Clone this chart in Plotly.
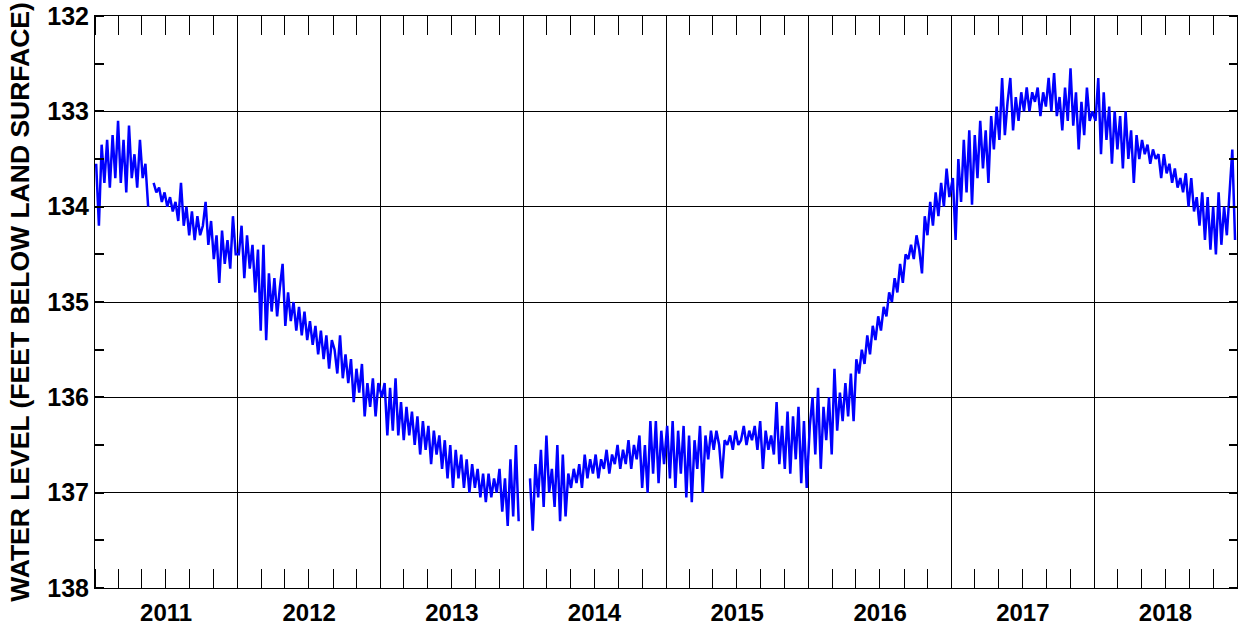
import pandas as pd
import plotly.graph_objects as go

# Weekly water-level readings (feet below land surface), one list per year
wl_2011 = [133.55, 134.2, 133.35, 133.75, 133.3, 133.8, 133.25, 133.7, 133.1, 133.75, 133.3, 133.85, 133.15, 133.7,
           133.45, 133.8, 133.3, 133.7, 133.55, 134.0, None, 133.75, 133.85, 133.8, 133.95, 133.85, 134.0, 133.9,
           134.05, 133.95, 134.15, 133.75, 134.2, 134.0, 134.3, 134.05, 134.35, 134.1, 134.3, 134.2, 133.95, 134.4,
           134.15, 134.55, 134.3, 134.8, 134.25, 134.6, 134.35, 134.65, 134.1, 134.5]
wl_2012 = [134.5, 134.2, 134.75, 134.3, 134.65, 134.4, 134.9, 134.45, 135.3, 134.4, 135.4, 134.7, 135.1, 134.75,
           135.15, 134.85, 134.6, 135.25, 134.9, 135.2, 135.0, 135.3, 135.05, 135.35, 135.1, 135.4, 135.2, 135.45,
           135.25, 135.55, 135.3, 135.6, 135.35, 135.7, 135.4, 135.5, 135.75, 135.35, 135.8, 135.55, 135.85, 135.6,
           136.05, 135.7, 135.95, 135.65, 136.2, 135.85, 136.1, 135.8, 136.2, 135.85]
wl_2013 = [136.0, 135.85, 136.4, 135.9, 136.35, 135.8, 136.4, 136.05, 136.45, 136.1, 136.4, 136.15, 136.5, 136.2,
           136.6, 136.25, 136.55, 136.3, 136.7, 136.35, 136.6, 136.4, 136.75, 136.45, 136.85, 136.5, 136.95, 136.55,
           136.85, 136.6, 136.95, 136.65, 137.0, 136.7, 136.95, 136.75, 137.05, 136.8, 137.1, 136.8, 137.05, 136.85,
           137.0, 136.75, 137.2, 136.85, 137.35, 136.65, 137.25, 136.5, 137.3, None]
wl_2014 = [None, None, 136.85, 137.4, 136.7, 137.05, 136.55, 137.15, 136.4, 137.0, 136.75, 137.15, 136.5, 137.3,
           136.6, 137.25, 136.8, 136.95, 136.75, 136.9, 136.7, 136.95, 136.6, 136.85, 136.65, 136.8, 136.6, 136.85,
           136.65, 136.75, 136.55, 136.8, 136.6, 136.7, 136.5, 136.75, 136.55, 136.7, 136.45, 136.75, 136.5, 136.65,
           136.4, 136.95, 136.5, 137.0, 136.25, 136.8, 136.25, 136.9, 136.35, 136.7]
wl_2015 = [136.3, 136.85, 136.25, 136.95, 136.35, 136.8, 136.3, 137.05, 136.4, 137.1, 136.45, 136.75, 136.3, 137.0,
           136.4, 136.65, 136.35, 136.55, 136.35, 136.5, 136.85, 136.45, 136.5, 136.4, 136.55, 136.35, 136.5, 136.45,
           136.3, 136.5, 136.35, 136.45, 136.3, 136.55, 136.25, 136.75, 136.35, 136.55, 136.4, 136.6, 136.05, 136.7,
           136.3, 136.75, 136.15, 136.8, 136.2, 136.65, 136.1, 136.9, 136.25, 136.95]
wl_2016 = [136.3, 136.0, 136.6, 135.9, 136.75, 136.1, 136.45, 136.0, 136.6, 135.7, 136.35, 135.95, 136.25, 135.85,
           136.2, 135.75, 136.25, 135.6, 135.75, 135.5, 135.65, 135.35, 135.55, 135.25, 135.4, 135.15, 135.3, 135.05,
           135.15, 134.9, 135.0, 134.75, 134.9, 134.6, 134.8, 134.5, 134.55, 134.4, 134.55, 134.3, 134.45, 134.7,
           134.1, 134.3, 133.95, 134.2, 133.85, 134.1, 133.75, 134.0, 133.6, 133.9]
wl_2017 = [133.7, 134.35, 133.5, 133.95, 133.3, 133.85, 133.2, 133.98, 133.25, 133.7, 133.1, 133.6, 133.2, 133.75,
           133.05, 133.4, 132.95, 133.3, 132.65, 133.25, 132.9, 132.65, 133.2, 132.85, 133.1, 132.8, 133.0, 132.75,
           133.0, 132.8, 132.9, 132.75, 133.05, 132.8, 132.95, 132.65, 133.0, 132.6, 133.05, 132.85, 133.2, 132.75,
           133.1, 132.55, 133.15, 132.8, 133.4, 132.9, 133.25, 132.75, 133.1, 133.0]
wl_2018 = [133.1, 132.65, 133.45, 132.8, 133.3, 132.95, 133.55, 133.0, 133.4, 133.05, 133.6, 133.0, 133.5, 133.2,
           133.75, 133.25, 133.5, 133.3, 133.45, 133.35, 133.55, 133.4, 133.5, 133.45, 133.7, 133.45, 133.65, 133.55,
           133.75, 133.6, 133.8, 133.7, 133.85, 133.65, 134.0, 133.7, 134.05, 133.9, 134.2, 133.85, 134.35, 133.9,
           134.45, 134.0, 134.5, 133.85, 134.4, 134.0, 134.3, 133.85, 133.4, 134.35]

years = [2011, 2012, 2013, 2014, 2015, 2016, 2017, 2018]
series_by_year = [wl_2011, wl_2012, wl_2013, wl_2014, wl_2015, wl_2016, wl_2017, wl_2018]
year_labels = ["2011", "2012", "2013", "2014", "2015", "2016", "2017", "2018"]
y_ticks = [132, 133, 134, 135, 136, 137, 138]

dates, levels = [], []
for yr, vals in zip(years, series_by_year):
    dates.extend(pd.date_range(f"{yr}-01-04", periods=len(vals), freq="7D"))
    levels.extend(vals)

label_pos = [f"{y}-07-02" for y in years]
year_starts = [f"{y}-01-01" for y in years] + ["2019-01-01"]

FAM = "Liberation Sans, Arial, sans-serif"

fig = go.Figure()
fig.add_trace(go.Scatter(x=dates, y=levels, mode="lines", line=dict(color="#0000ff", width=2.5),
                         connectgaps=False, showlegend=False))
# invisible trace to activate the top/right companion axes
fig.add_trace(go.Scatter(x=[dates[0]], y=[levels[0]], xaxis="x2", yaxis="y2", mode="markers",
                         marker=dict(opacity=0), showlegend=False, hoverinfo="skip"))

xr = ["2011-01-01", "2019-01-01"]
fig.update_layout(
    width=1238, height=628,
    margin=dict(l=95, r=1, t=16, b=40, autoexpand=False),
    plot_bgcolor="white", paper_bgcolor="white",
    xaxis=dict(range=xr, type="date", tickvals=label_pos, ticktext=[f"<b>{t}</b>" for t in year_labels],
               ticks="", showgrid=False, zeroline=False, showline=True, linecolor="black", linewidth=1,
               automargin=False, ticklabelstandoff=3,
               tickfont=dict(family=FAM, size=24, color="black"),
               minor=dict(dtick="M2", tick0="2011-01-01", ticks="inside", ticklen=19,
                          tickcolor="black", tickwidth=1, showgrid=False)),
    xaxis2=dict(range=xr, type="date", overlaying="x", side="top", matches="x",
                tickvals=year_starts, showticklabels=False, ticks="", automargin=False,
                showgrid=True, gridcolor="black", gridwidth=1, zeroline=False,
                showline=True, linecolor="black", linewidth=1,
                minor=dict(dtick="M2", tick0="2011-01-01", ticks="inside", ticklen=19,
                           tickcolor="black", tickwidth=1, showgrid=False)),
    yaxis=dict(range=[138, 132], tickvals=y_ticks, ticktext=[f"<b>{v}</b>" for v in y_ticks],
               ticks="", showgrid=True, gridcolor="black", automargin=False,
               gridwidth=1, zeroline=False, showline=True, linecolor="black", linewidth=1,
               tickfont=dict(family=FAM, size=25, color="black"),
               title=dict(text="<b>WATER LEVEL (FEET BELOW LAND SURFACE)</b>", standoff=10,
                          font=dict(family=FAM, size=26.5, color="black")),
               minor=dict(dtick=0.5, ticks="inside", ticklen=9, tickcolor="black",
                          tickwidth=2, showgrid=False)),
    yaxis2=dict(range=[138, 132], overlaying="y", side="right", matches="y", tickvals=y_ticks,
                showticklabels=False, ticks="", showgrid=False, zeroline=False, automargin=False,
                showline=True, linecolor="black", linewidth=1,
                minor=dict(dtick=0.5, ticks="inside", ticklen=8, tickcolor="black",
                           tickwidth=2, showgrid=False)),
)
fig.write_html("out.html", config={"displayModeBar": False},
               post_script="document.body.style.margin='0';document.body.style.overflow='hidden';")
